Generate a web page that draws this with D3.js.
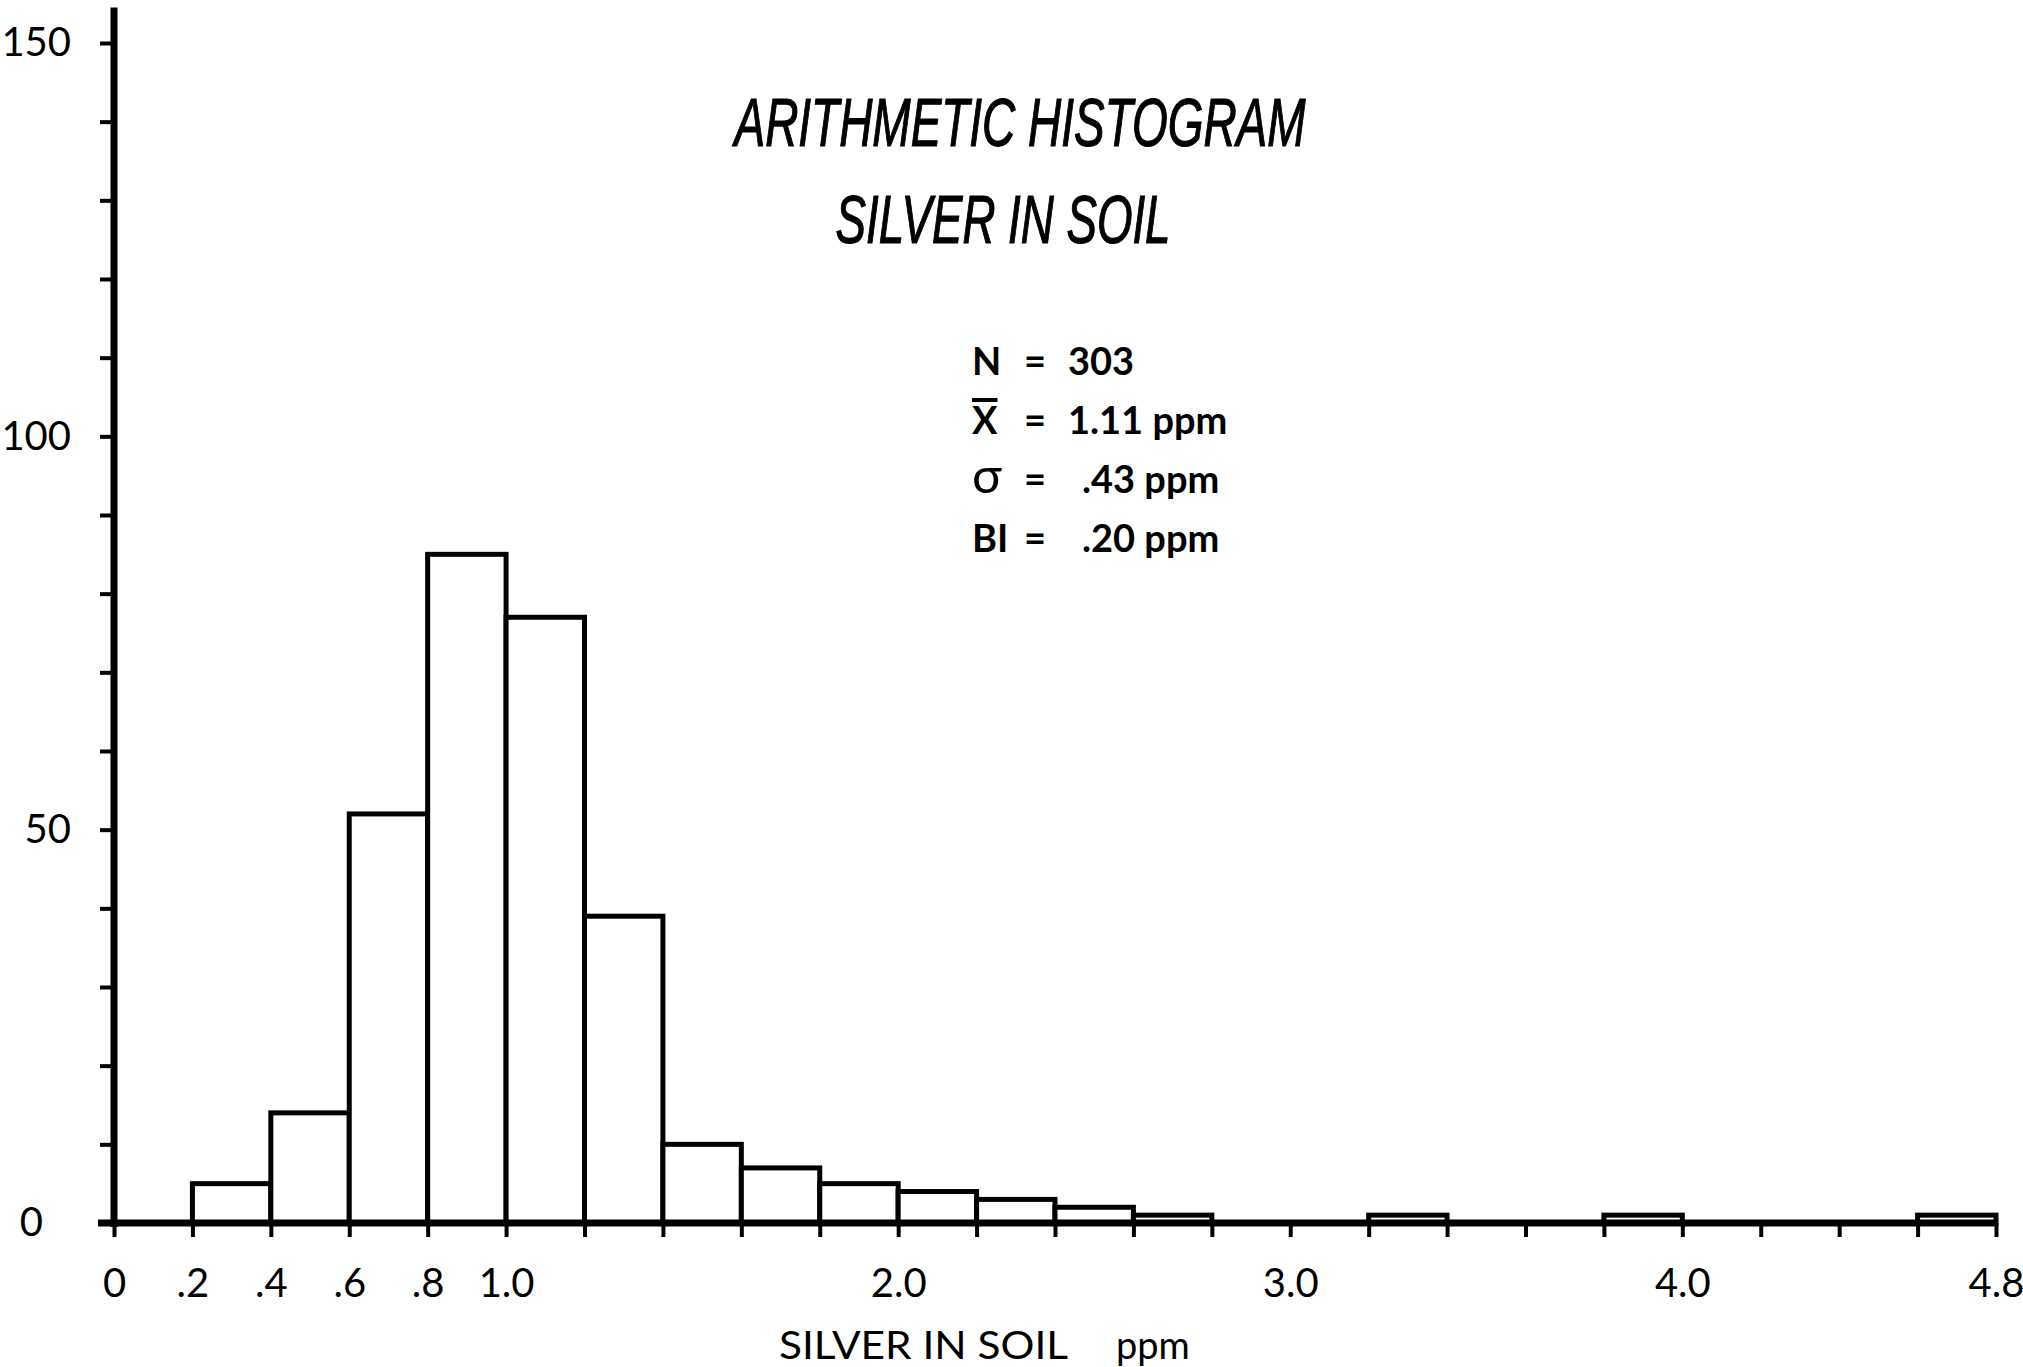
<!DOCTYPE html>
<html>
<head>
<meta charset="utf-8">
<script src="https://cdn.jsdelivr.net/npm/d3@7/dist/d3.min.js"></script>
<style>
    body { margin: 0; background: #fff; }
    svg { display: block; }
</style>
</head>
<body>
<div id="chart"></div>
<script>
// bins of 0.2 ppm, counts
var binStarts = [0.2, 0.4, 0.6, 0.8, 1.0, 1.2, 1.4, 1.6, 1.8, 2.0, 2.2, 2.4, 2.6, 2.8, 3.0, 3.2, 3.4, 3.6, 3.8, 4.0, 4.2, 4.4, 4.6];
var counts = [5, 14, 52, 85, 77, 39, 10, 7, 5, 4, 3, 2, 1, 0, 0, 1, 0, 0, 1, 0, 0, 0, 1];
var binWidth = 0.2;

var yTicks = [0, 10, 20, 30, 40, 50, 60, 70, 80, 90, 100, 110, 120, 130, 140, 150];
var yTickLabels = [0, 50, 100, 150];
var xTicks = [0, 0.2, 0.4, 0.6, 0.8, 1.0, 1.2, 1.4, 1.6, 1.8, 2.0, 2.2, 2.4, 2.6, 2.8, 3.0, 3.2, 3.4, 3.6, 3.8, 4.0, 4.2, 4.4, 4.6, 4.8];
var xTickLabels = [0, 0.2, 0.4, 0.6, 0.8, 1.0, 2.0, 3.0, 4.0, 4.8];
var xTickText = ["0", ".2", ".4", ".6", ".8", "1.0", "2.0", "3.0", "4.0", "4.8"];

var titleLines = ["ARITHMETIC HISTOGRAM", "SILVER IN SOIL"];
var statLabels = ["N", "X", "\u03C3", "BI"];
var statValues = ["303", "1.11 ppm", ".43 ppm", ".20 ppm"];
var axisTitle = "SILVER IN SOIL";
var axisUnit = "ppm";

var Histogram = {
    font: "Lato, 'Noto Sans', sans-serif",

    init: function(){
        this.svg = d3.select("#chart")
            .append("svg")
            .attr("width", 2023)
            .attr("height", 1367)
            .attr("xmlns", "http://www.w3.org/2000/svg");

        this.x = d3.scaleLinear().domain([0, 4.8]).range([114, 1996]);
        this.y = d3.scaleLinear().domain([0, 150]).range([1223, 43]);

        this.drawBars();
        this.drawAxes();
        this.drawTitle();
        this.drawStats();
    },

    drawBars: function(){
        var x = this.x, y = this.y;
        var idx = d3.range(counts.length).filter(function(i){ return counts[i] > 0; });

        this.svg.append("g").selectAll("rect")
            .data(idx)
            .enter().append("rect")
            .attr("x", function(i){ return x(binStarts[i]); })
            .attr("width", function(i){ return x(binStarts[i] + binWidth) - x(binStarts[i]); })
            .attr("y", function(i){ return y(counts[i]); })
            .attr("height", function(i){ return y(0) - y(counts[i]); })
            .attr("fill", "#fff")
            .attr("stroke", "#000")
            .attr("stroke-width", 5);
    },

    drawAxes: function(){
        var x = this.x, y = this.y, svg = this.svg, font = this.font;

        //small ticks every 10 on the left
        var gy = svg.append("g")
            .attr("transform", "translate(" + x(0) + ",0)")
            .call(d3.axisLeft(y).tickValues(yTicks).tickSize(14).tickSizeOuter(0).tickFormat(""));
        gy.select(".domain").remove();
        gy.selectAll("line").attr("stroke", "#000").attr("stroke-width", 4);

        var gyl = svg.append("g")
            .attr("transform", "translate(" + x(0) + ",0)")
            .call(d3.axisLeft(y).tickValues(yTickLabels).tickSize(0).tickPadding(43));
        gyl.select(".domain").remove();
        gyl.selectAll("text")
            .attr("font-family", font)
            .attr("font-size", 40)
            .attr("fill", "#000")
            .attr("dx", function(d){ return d === 0 ? -28 : 0; });

        //ticks under the baseline
        var gx = svg.append("g")
            .attr("transform", "translate(0," + y(0) + ")")
            .call(d3.axisBottom(x).tickValues(xTicks).tickSize(14).tickSizeOuter(0).tickFormat(""));
        gx.select(".domain").remove();
        gx.selectAll("line").attr("stroke", "#000").attr("stroke-width", 4);

        var gxl = svg.append("g")
            .attr("transform", "translate(0," + y(0) + ")")
            .call(d3.axisBottom(x).tickValues(xTickLabels).tickSize(0).tickPadding(46)
                .tickFormat(function(d, i){ return xTickText[i]; }));
        gxl.select(".domain").remove();
        gxl.selectAll("text")
            .attr("font-family", font)
            .attr("font-size", 40)
            .attr("fill", "#000");

        //heavy axis lines
        svg.append("line")
            .attr("x1", x(0)).attr("x2", x(0))
            .attr("y1", y(154.5)).attr("y2", y(0) + 4)
            .attr("stroke", "#000").attr("stroke-width", 7);
        svg.append("line")
            .attr("x1", x(0) - 16).attr("x2", x(4.8) + 2)
            .attr("y1", y(0)).attr("y2", y(0))
            .attr("stroke", "#000").attr("stroke-width", 7);

        svg.append("text")
            .attr("x", 779).attr("y", 1359)
            .attr("font-family", font)
            .attr("font-size", 38)
            .attr("textLength", 289)
            .attr("lengthAdjust", "spacingAndGlyphs")
            .text(axisTitle);
        svg.append("text")
            .attr("x", 1116).attr("y", 1359)
            .attr("font-family", font)
            .attr("font-size", 38)
            .text(axisUnit);
    },

    drawTitle: function(){
        var svg = this.svg;
        var centers = [1020, 1003];
        var baselines = [146, 243];
        var widths = [571, 335];
        titleLines.forEach(function(t, i){
            svg.append("text")
                .attr("x", centers[i])
                .attr("y", baselines[i])
                .attr("text-anchor", "middle")
                .attr("font-family", "'Liberation Sans Narrow', 'Liberation Sans', sans-serif")
                .attr("font-style", "italic")
                .attr("font-size", 68)
                .attr("stroke", "#000")
                .attr("stroke-width", 1.2)
                .attr("textLength", widths[i])
                .attr("lengthAdjust", "spacingAndGlyphs")
                .text(t);
        });
    },

    drawStats: function(){
        var g = this.svg.append("g")
            .attr("font-family", this.font)
            .attr("font-size", 38)
            .attr("font-weight", "bold");

        statLabels.forEach(function(lab, i){
            var base = 375 + i * 59;
            var t = g.append("text").attr("x", 972).attr("y", base).text(lab);
            //sigma is drawn as large as the capitals
            if (i === 2){
                t.attr("font-size", 50).attr("font-weight", "normal");
            }
            if (i === 1){
                var w = t.node().getComputedTextLength();
                g.append("line")
                    .attr("x1", 972).attr("x2", 972 + w)
                    .attr("y1", base - 34).attr("y2", base - 34)
                    .attr("stroke", "#000").attr("stroke-width", 4);
            }
            g.append("text").attr("x", 1024).attr("y", base).text("=");
            g.append("text").attr("x", i < 2 ? 1068 : 1082).attr("y", base).text(statValues[i]);
        });
    }
};

Histogram.init();
</script>
</body>
</html>
